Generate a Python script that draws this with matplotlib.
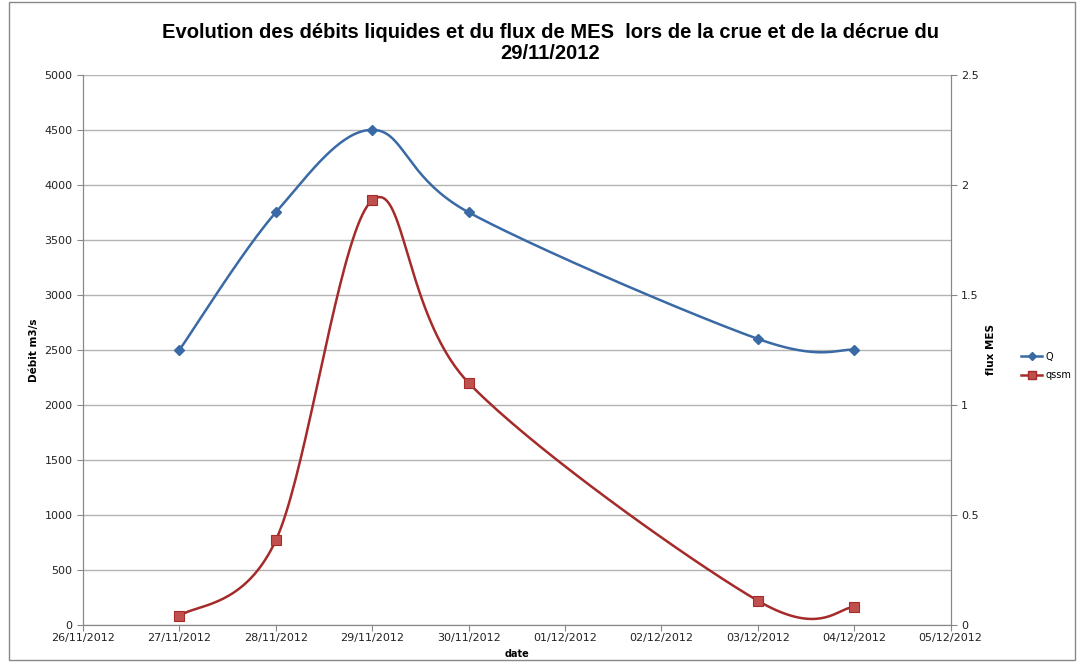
import numpy as np
import matplotlib.pyplot as plt
import matplotlib.dates as mdates
from matplotlib.patches import Rectangle
from datetime import datetime

plt.rcParams['font.family'] = ['DejaVu Sans']

# data
dates = ["27/11/2012", "28/11/2012", "29/11/2012", "30/11/2012", "03/12/2012", "04/12/2012"]
q_values = [2500, 3750, 4500, 3750, 2600, 2500]
qssm_values = [0.04, 0.385, 1.93, 1.10, 0.11, 0.08]

x_start = "26/11/2012"
x_end = "05/12/2012"

def to_num(s):
    return mdates.date2num(datetime.strptime(s, "%d/%m/%Y"))

def smooth(xs, ys, n=40):
    # excel-style smoothed line: cubic bezier with catmull-rom control points
    xs = np.asarray(xs, float)
    ys = np.asarray(ys, float)
    pts = np.column_stack([xs, ys])
    out = []
    for i in range(len(pts) - 1):
        p0 = pts[i - 1] if i > 0 else pts[i]
        p1 = pts[i]
        p2 = pts[i + 1]
        p3 = pts[i + 2] if i + 2 < len(pts) else pts[i + 1]
        c1 = p1 + (p2 - p0) / 6
        c2 = p2 - (p3 - p1) / 6
        t = np.linspace(0, 1, n)[:, None]
        seg = ((1 - t) ** 3) * p1 + 3 * ((1 - t) ** 2) * t * c1 + 3 * (1 - t) * t ** 2 * c2 + t ** 3 * p2
        out.append(seg if i == 0 else seg[1:])
    seg = np.vstack(out)
    return seg[:, 0], seg[:, 1]

x = np.array([to_num(d) for d in dates])

blue = "#3a6aa5"
red = "#a52a2a"
grid_c = "#b3b3b3"

fig = plt.figure(figsize=(10.79, 6.62), dpi=100)
ax = fig.add_axes([0.077, 0.056, 0.804, 0.831])
ax2 = ax.twinx()

sx, sy = smooth(x, q_values)
ax.plot(sx, sy, color=blue, lw=1.8, zorder=3)
ax.plot(x, q_values, ls="none", marker="D", ms=5, color=blue, zorder=4)

sx2, sy2 = smooth(x, qssm_values)
ax2.plot(sx2, sy2, color=red, lw=1.8, zorder=3)
ax2.plot(x, qssm_values, ls="none", marker="s", ms=7, color="#c0504d",
         markeredgecolor=red, markeredgewidth=0.8, zorder=4)

ax.set_xlim(to_num(x_start), to_num(x_end))
ax.set_ylim(0, 5000)
ax2.set_ylim(0, 2.5)
ax.set_yticks(np.arange(0, 5001, 500))
ax2.set_yticks([0, 0.5, 1, 1.5, 2, 2.5])
ax2.set_yticklabels(["0", "0.5", "1", "1.5", "2", "2.5"])
ax.xaxis.set_major_locator(mdates.DayLocator())
ax.xaxis.set_major_formatter(mdates.DateFormatter("%d/%m/%Y"))

ax.yaxis.grid(True, color=grid_c, lw=1)
ax.set_axisbelow(True)

for a in (ax, ax2):
    a.spines["top"].set_visible(False)
    for side in ("left", "right", "bottom"):
        a.spines[side].set_color("#888888")
    a.tick_params(labelsize=8, length=4, color="#888888", labelcolor="#222222")
ax.tick_params(axis="x", pad=2)

ax.set_xlabel("date", fontsize=7, fontweight="bold", labelpad=4)
ax.set_ylabel("Débit m3/s", fontsize=7.5, fontweight="bold", family="Liberation Sans Narrow", labelpad=4)
ax2.set_ylabel("flux MES", fontsize=7.5, fontweight="bold", family="Liberation Sans Narrow", labelpad=5)

fig.text(0.51, 0.905, "Evolution des débits liquides et du flux de MES  lors de la crue et de la décrue du\n29/11/2012",
         ha="center", va="bottom", fontsize=14.5, fontweight="bold", family="Liberation Sans", linespacing=1.15)

handles = [
    plt.Line2D([], [], color=blue, lw=1.8, marker="D", ms=4),
    plt.Line2D([], [], color=red, lw=1.8, marker="s", ms=6, markerfacecolor="#c0504d"),
]
fig.legend(handles, ["Q", "qssm"], loc="center left", bbox_to_anchor=(0.938, 0.447),
           frameon=False, fontsize=7, handlelength=2.2, handletextpad=0.3, labelspacing=0.9)

fig.patches.append(Rectangle((0.008, 0.003), 0.988, 0.994, transform=fig.transFigure,
                             fill=False, edgecolor="#888888", lw=1))

fig.savefig("out.png", dpi=100)
